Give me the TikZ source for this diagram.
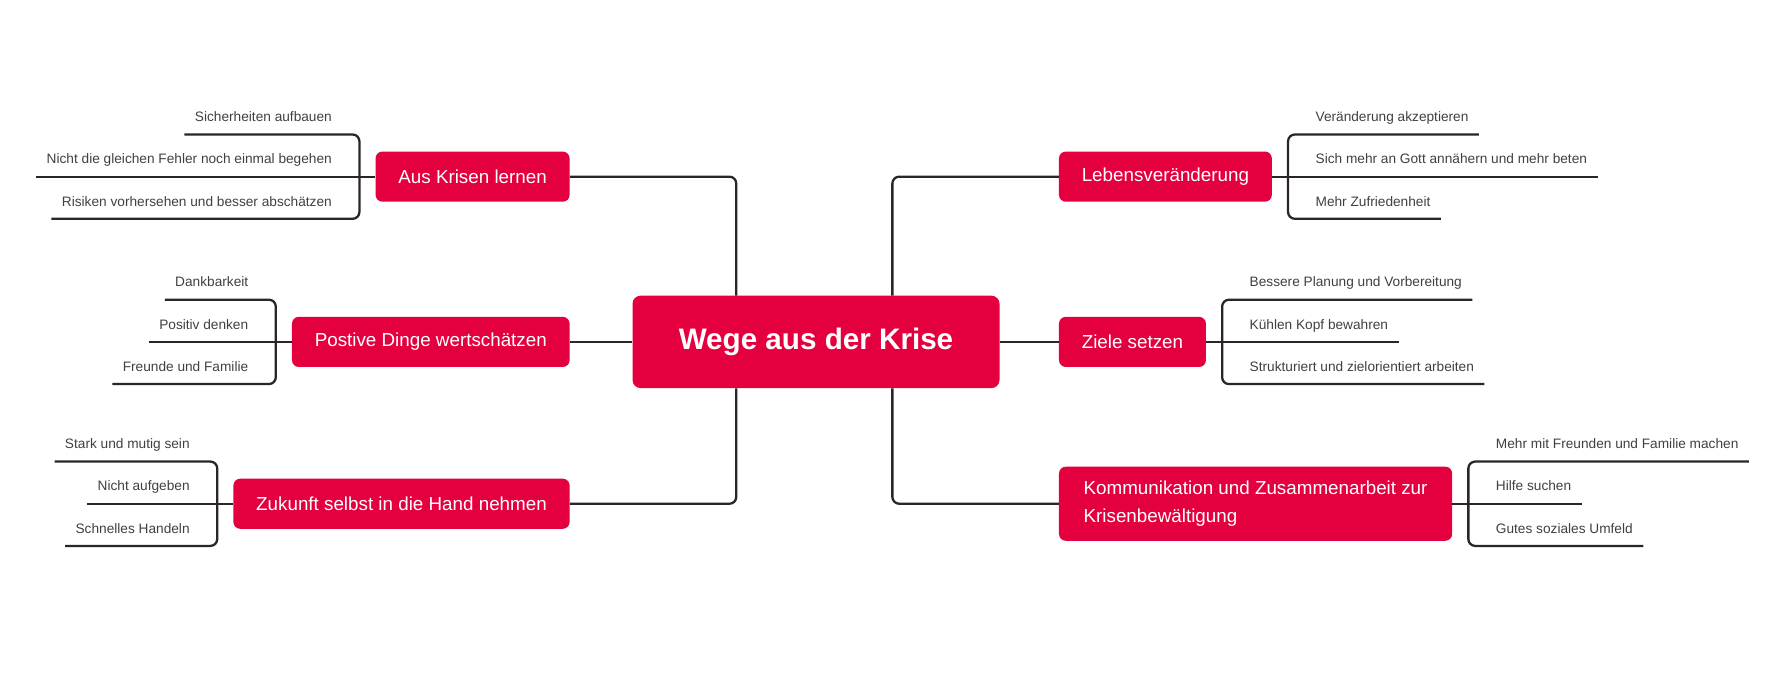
\documentclass[tikz,border=0pt]{standalone}
\usepackage{fontspec}
\setmainfont{Liberation Sans}
\definecolor{krisered}{HTML}{E4003F}
\definecolor{linedark}{HTML}{2B2529}
\definecolor{leaftext}{HTML}{404040}
\tikzset{
  root/.style={fill=krisered, text=white, rounded corners=7pt, minimum width=322pt, minimum height=81pt, font=\fontsize{26}{30}\selectfont\bfseries},
  branch/.style={fill=krisered, text=white, rounded corners=6pt, minimum height=44pt, inner xsep=20pt, font=\fontsize{16.5}{24.5}\selectfont},
  leaf/.style={text=leaftext, inner xsep=9pt, inner ysep=8pt, text height=9pt, text depth=3pt, font=\fontsize{12}{14}\selectfont},
  link/.style={draw=linedark, line width=2pt, rounded corners=6pt}
}
\begin{document}
\begin{tikzpicture}[x=1pt,y=1pt]
\useasboundingbox (0,0) rectangle (1568,-612.4);

\node[root] (root) at (716,-300) {Wege aus der Krise};

\node[branch, anchor=east] (aus) at (500,-155) {Aus Krisen lernen};
\node[branch, anchor=east] (pos) at (500,-300) {Postive Dinge wertschätzen};
\node[branch, anchor=east] (zuk) at (500,-442) {Zukunft selbst in die Hand nehmen};
\node[branch, anchor=west] (leb) at (929,-155) {Lebensveränderung};
\node[branch, anchor=west] (ziel) at (929,-300) {Ziele setzen};
\node[branch, anchor=west, align=left, minimum width=345pt, minimum height=65pt] (kom) at (929,-442) {Kommunikation und Zusammenarbeit zur\\Krisenbewältigung};

\draw[link] ([xshift=-70pt]root.north) |- (aus.east);
\draw[link] (root.west) -- (pos.east);
\draw[link] ([xshift=-70pt]root.south) |- (zuk.east);
\draw[link] ([xshift=67pt]root.north) |- (leb.west);
\draw[link] (root.east) -- (ziel.west);
\draw[link] ([xshift=67pt]root.south) |- (kom.west);

% left leaves
\coordinate (aus-b) at ([xshift=-14pt]aus.west);
\node[leaf, anchor=south east] (aus-1) at ([shift={(-15pt,37pt)}]aus-b) {Sicherheiten aufbauen};
\node[leaf, anchor=south east] (aus-2) at ([xshift=-15pt]aus-b) {Nicht die gleichen Fehler noch einmal begehen};
\node[leaf, anchor=south east] (aus-3) at ([shift={(-15pt,-37pt)}]aus-b) {Risiken vorhersehen und besser abschätzen};
\draw[link] (aus-1.south west) -| (aus-3.south west -| aus-b) -- (aus-3.south west);
\draw[link] (aus-2.south west) -- (aus.west);

\coordinate (pos-b) at ([xshift=-14pt]pos.west);
\node[leaf, anchor=south east] (pos-1) at ([shift={(-15pt,37pt)}]pos-b) {Dankbarkeit};
\node[leaf, anchor=south east] (pos-2) at ([xshift=-15pt]pos-b) {Positiv denken};
\node[leaf, anchor=south east] (pos-3) at ([shift={(-15pt,-37pt)}]pos-b) {Freunde und Familie};
\draw[link] (pos-1.south west) -| (pos-3.south west -| pos-b) -- (pos-3.south west);
\draw[link] (pos-2.south west) -- (pos.west);

\coordinate (zuk-b) at ([xshift=-14pt]zuk.west);
\node[leaf, anchor=south east] (zuk-1) at ([shift={(-15pt,37pt)}]zuk-b) {Stark und mutig sein};
\node[leaf, anchor=south east] (zuk-2) at ([xshift=-15pt]zuk-b) {Nicht aufgeben};
\node[leaf, anchor=south east] (zuk-3) at ([shift={(-15pt,-37pt)}]zuk-b) {Schnelles Handeln};
\draw[link] (zuk-1.south west) -| (zuk-3.south west -| zuk-b) -- (zuk-3.south west);
\draw[link] (zuk-2.south west) -- (zuk.west);

% right leaves
\coordinate (leb-b) at ([xshift=14pt]leb.east);
\node[leaf, anchor=south west] (leb-1) at ([shift={(15pt,37pt)}]leb-b) {Veränderung akzeptieren};
\node[leaf, anchor=south west] (leb-2) at ([xshift=15pt]leb-b) {Sich mehr an Gott annähern und mehr beten};
\node[leaf, anchor=south west] (leb-3) at ([shift={(15pt,-37pt)}]leb-b) {Mehr Zufriedenheit};
\draw[link] (leb-1.south east) -| (leb-3.south east -| leb-b) -- (leb-3.south east);
\draw[link] (leb-2.south east) -- (leb.east);

\coordinate (ziel-b) at ([xshift=14pt]ziel.east);
\node[leaf, anchor=south west] (ziel-1) at ([shift={(15pt,37pt)}]ziel-b) {Bessere Planung und Vorbereitung};
\node[leaf, anchor=south west] (ziel-2) at ([xshift=15pt]ziel-b) {Kühlen Kopf bewahren};
\node[leaf, anchor=south west] (ziel-3) at ([shift={(15pt,-37pt)}]ziel-b) {Strukturiert und zielorientiert arbeiten};
\draw[link] (ziel-1.south east) -| (ziel-3.south east -| ziel-b) -- (ziel-3.south east);
\draw[link] (ziel-2.south east) -- (ziel.east);

\coordinate (kom-b) at ([xshift=14pt]kom.east);
\node[leaf, anchor=south west] (kom-1) at ([shift={(15pt,37pt)}]kom-b) {Mehr mit Freunden und Familie machen};
\node[leaf, anchor=south west] (kom-2) at ([xshift=15pt]kom-b) {Hilfe suchen};
\node[leaf, anchor=south west] (kom-3) at ([shift={(15pt,-37pt)}]kom-b) {Gutes soziales Umfeld};
\draw[link] (kom-1.south east) -| (kom-3.south east -| kom-b) -- (kom-3.south east);
\draw[link] (kom-2.south east) -- (kom.east);
\end{tikzpicture}
\end{document}
